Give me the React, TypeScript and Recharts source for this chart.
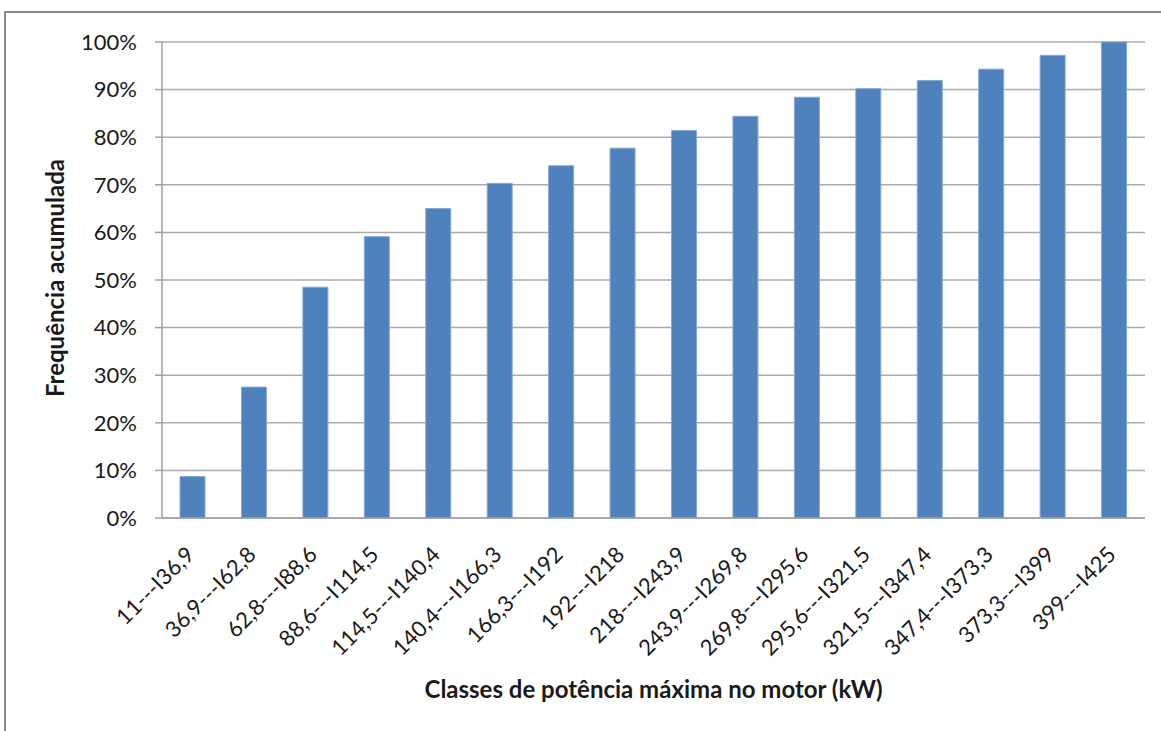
import { BarChart, Bar, XAxis, YAxis, CartesianGrid, Label } from 'recharts';

const classes = [
  '11---I36,9',
  '36,9---I62,8',
  '62,8---I88,6',
  '88,6---I114,5',
  '114,5---I140,4',
  '140,4---I166,3',
  '166,3---I192',
  '192---I218',
  '218---I243,9',
  '243,9---I269,8',
  '269,8---I295,6',
  '295,6---I321,5',
  '321,5---I347,4',
  '347,4---I373,3',
  '373,3---I399',
  '399---I425',
];

const cumulative = [
  0.087, 0.275, 0.485, 0.591, 0.65, 0.703, 0.74, 0.777, 0.814, 0.844, 0.884, 0.902, 0.919, 0.943,
  0.972, 1.0,
];

const yTicks = [0, 0.1, 0.2, 0.3, 0.4, 0.5, 0.6, 0.7, 0.8, 0.9, 1.0];

const data = classes.map((c, i) => ({ classe: c, freq: cumulative[i] }));

const FONT = 'Lato, "Open Sans", sans-serif';

function AngledTick(props: any) {
  const { x, y, payload } = props;
  const ax = x + 3;
  const ay = y + 38;
  return (
    <text
      x={ax}
      y={ay}
      textAnchor="end"
      transform={`rotate(-45 ${ax} ${ay})`}
      fill="#1a1a1a"
      fontSize={22}
      fontFamily={FONT}
    >
      {payload.value}
    </text>
  );
}

export default function App() {
  return (
    <div style={{ position: 'absolute', left: 0, top: 0, width: 1161, height: 731, background: '#fff' }}>
      <div
        style={{
          position: 'absolute',
          left: 4,
          top: 11,
          right: 0,
          bottom: 0,
          borderTop: '2px solid #8a8a8a',
          borderLeft: '2px solid #8a8a8a',
        }}
      />
      <div style={{ position: 'absolute', left: 0, top: 0 }}>
        <BarChart
          width={1161}
          height={731}
          data={data}
          margin={{ top: 42, right: 16, bottom: 33, left: 82 }}
          barCategoryGap="30%"
        >
          <CartesianGrid vertical={false} stroke="#ababab" strokeWidth={1.5} />
          <XAxis
            dataKey="classe"
            interval={0}
            height={180}
            tickLine={false}
            tickSize={0}
            tickMargin={0}
            axisLine={{ stroke: '#a0a0a0', strokeWidth: 1.5 }}
            tick={<AngledTick />}
          >
            <Label
              value="Classes de potência máxima no motor (kW)"
              position="insideBottom"
              offset={0}
              fill="#1a1a1a"
              fontSize={24}
              fontWeight="bold"
              fontFamily={FONT}
            />
          </XAxis>
          <YAxis
            width={80}
            domain={[0, 1]}
            ticks={yTicks}
            interval={0}
            tickSize={7}
            tickMargin={18}
            tickLine={{ stroke: '#a0a0a0', strokeWidth: 1.5 }}
            axisLine={{ stroke: '#a0a0a0', strokeWidth: 1.5 }}
            tickFormatter={(v: number) => `${Math.round(v * 100)}%`}
            tick={{ fill: '#1a1a1a', fontSize: 22, fontFamily: FONT }}
          >
            <Label
              content={() => (
                <text
                  x={64}
                  y={278}
                  textAnchor="middle"
                  transform="rotate(-90 64 278)"
                  fill="#1a1a1a"
                  fontSize={24}
                  fontWeight="bold"
                  fontFamily={FONT}
                >
                  Frequência acumulada
                </text>
              )}
            />
          </YAxis>
          <Bar
            dataKey="freq"
            fill="#4f81bd"
            stroke="#86a8d6"
            strokeWidth={1}
            barSize={25}
            isAnimationActive={false}
          />
        </BarChart>
      </div>
    </div>
  );
}
